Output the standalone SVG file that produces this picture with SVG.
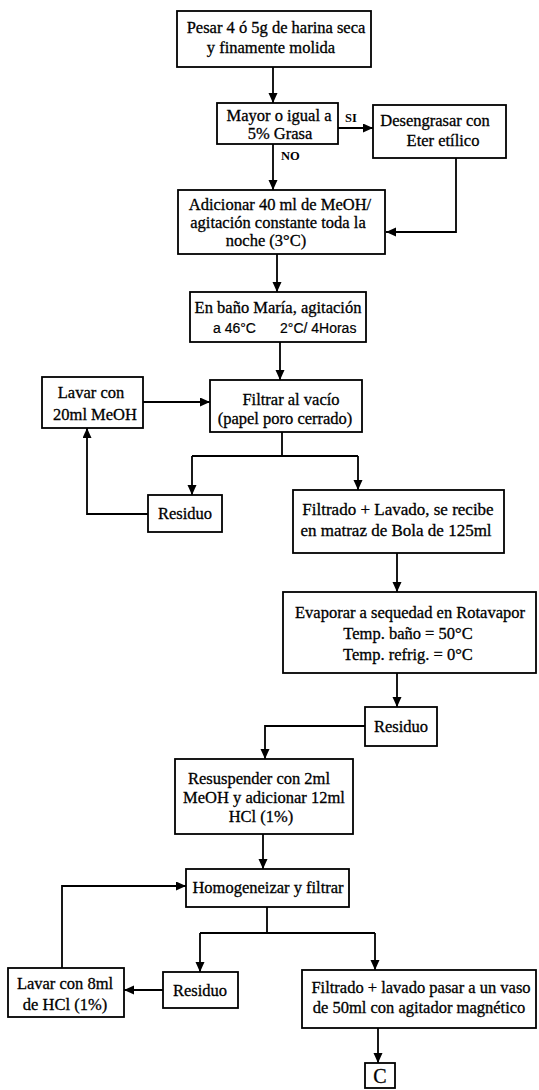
<svg xmlns="http://www.w3.org/2000/svg" width="539" height="1090" viewBox="0 0 539 1090">
<style>
.box{fill:#fff;stroke:#000;stroke-width:1.8}
.t{font-family:"Liberation Serif","Times New Roman",serif;font-size:16.5px;fill:#000;stroke:#000;stroke-width:0.3;text-anchor:middle}
.ts{font-family:"Liberation Sans",Arial,sans-serif;font-size:14px;fill:#000;stroke:#000;stroke-width:0.2}
.lbl{font-family:"Liberation Serif","Times New Roman",serif;font-size:12.5px;font-weight:bold;fill:#000}
.c{fill:none;stroke:#000;stroke-width:1.8}
</style>
<defs>
<marker id="ah" markerUnits="userSpaceOnUse" markerWidth="10" markerHeight="10" refX="10" refY="4.5" orient="auto">
<path d="M0,0 L10,4.5 L0,9 z" fill="#000"/>
</marker>
</defs>
<rect width="539" height="1090" fill="#fff"/>
<g id="connectors">
<path class="c" d="M273,67 V103" marker-end="url(#ah)"/>
<path class="c" d="M338,128 H373" marker-end="url(#ah)"/>
<path class="c" d="M273,144 V190" marker-end="url(#ah)"/>
<path class="c" d="M456,158 V232 H386" marker-end="url(#ah)"/>
<path class="c" d="M277,254 V292" marker-end="url(#ah)"/>
<path class="c" d="M280,342 V380" marker-end="url(#ah)"/>
<path class="c" d="M143,402 H210" marker-end="url(#ah)"/>
<path class="c" d="M282,432 V456 M192,456 H358"/>
<path class="c" d="M192,456 V495" marker-end="url(#ah)"/>
<path class="c" d="M358,456 V490" marker-end="url(#ah)"/>
<path class="c" d="M148,514 H87 V428" marker-end="url(#ah)"/>
<path class="c" d="M397,553 V592" marker-end="url(#ah)"/>
<path class="c" d="M397,673 V707" marker-end="url(#ah)"/>
<path class="c" d="M365,726 H265 V759" marker-end="url(#ah)"/>
<path class="c" d="M263,834 V869" marker-end="url(#ah)"/>
<path class="c" d="M267,907 V933 M200,933 H375"/>
<path class="c" d="M200,933 V972" marker-end="url(#ah)"/>
<path class="c" d="M375,933 V970" marker-end="url(#ah)"/>
<path class="c" d="M163,990 H124" marker-end="url(#ah)"/>
<path class="c" d="M62,968 V886 H186" marker-end="url(#ah)"/>
<path class="c" d="M378,1028 V1063" marker-end="url(#ah)"/>
<text class="lbl" x="345" y="122">SI</text>
<text class="lbl" x="281" y="160">NO</text>
</g>
<g id="n1"><rect class="box" x="177" y="11" width="194" height="56"/>
<text class="t" x="276" y="33">Pesar 4 ó 5g de harina seca</text>
<text class="t" x="271" y="53">y finamente molida</text></g>
<g id="n2"><rect class="box" x="217" y="103" width="121" height="41"/>
<text class="t" x="279" y="121">Mayor o igual a</text>
<text class="t" x="280" y="139">5% Grasa</text></g>
<g id="n3"><rect class="box" x="373" y="105" width="133" height="53"/>
<text class="t" x="435" y="126">Desengrasar con</text>
<text class="t" x="443" y="146">Eter etílico</text></g>
<g id="n4"><rect class="box" x="178" y="190" width="207" height="64"/>
<text class="t" x="280" y="210">Adicionar 40 ml de MeOH/</text>
<text class="t" x="278" y="228">agitación constante toda la</text>
<text class="t" x="266" y="246">noche (3°C)</text></g>
<g id="n5"><rect class="box" x="190" y="292" width="176" height="50"/>
<text class="t" x="278" y="313">En baño María, agitación</text>
<text class="ts" x="213" y="333">a 46°C</text>
<text class="ts" x="280" y="333">2°C/ 4Horas</text></g>
<g id="n6"><rect class="box" x="210" y="380" width="152" height="52"/>
<text class="t" x="291" y="405">Filtrar al vacío</text>
<text class="t" x="285" y="424">(papel poro cerrado)</text></g>
<g id="n7"><rect class="box" x="42" y="377" width="101" height="51"/>
<text class="t" x="91" y="398">Lavar con</text>
<text class="t" x="95" y="420">20ml MeOH</text></g>
<g id="n8"><rect class="box" x="148" y="495" width="74" height="37"/>
<text class="t" x="185" y="519">Residuo</text></g>
<g id="n9"><rect class="box" x="293" y="490" width="211" height="63"/>
<text class="t" x="398" y="515" style="font-size:17px">Filtrado + Lavado, se recibe</text>
<text class="t" x="396" y="536" style="font-size:17px">en matraz de Bola de 125ml</text></g>
<g id="n10"><rect class="box" x="283" y="592" width="253" height="81"/>
<text class="t" x="410" y="618">Evaporar a sequedad en Rotavapor</text>
<text class="t" x="408" y="639">Temp. baño = 50°C</text>
<text class="t" x="408" y="660">Temp. refrig. = 0°C</text></g>
<g id="n11"><rect class="box" x="365" y="707" width="72" height="39"/>
<text class="t" x="401" y="732">Residuo</text></g>
<g id="n12"><rect class="box" x="175" y="759" width="178" height="75"/>
<text class="t" x="259" y="784">Resuspender con 2ml</text>
<text class="t" x="264" y="803">MeOH y adicionar 12ml</text>
<text class="t" x="261" y="822">HCl (1%)</text></g>
<g id="n13"><rect class="box" x="186" y="869" width="163" height="38"/>
<text class="t" x="268" y="893">Homogeneizar y filtrar</text></g>
<g id="n14"><rect class="box" x="163" y="972" width="75" height="36"/>
<text class="t" x="200" y="996">Residuo</text></g>
<g id="n15"><rect class="box" x="8" y="968" width="116" height="49"/>
<text class="t" x="65" y="989">Lavar con 8ml</text>
<text class="t" x="65" y="1010">de HCl (1%)</text></g>
<g id="n16"><rect class="box" x="302" y="970" width="234" height="58"/>
<text class="t" x="421" y="993">Filtrado + lavado pasar a un vaso</text>
<text class="t" x="419" y="1013">de 50ml con agitador magnético</text></g>
<g id="n17"><rect class="box" x="365" y="1063" width="30" height="25"/>
<text class="t" x="380" y="1083" style="font-size:20px">C</text></g>
</svg>
